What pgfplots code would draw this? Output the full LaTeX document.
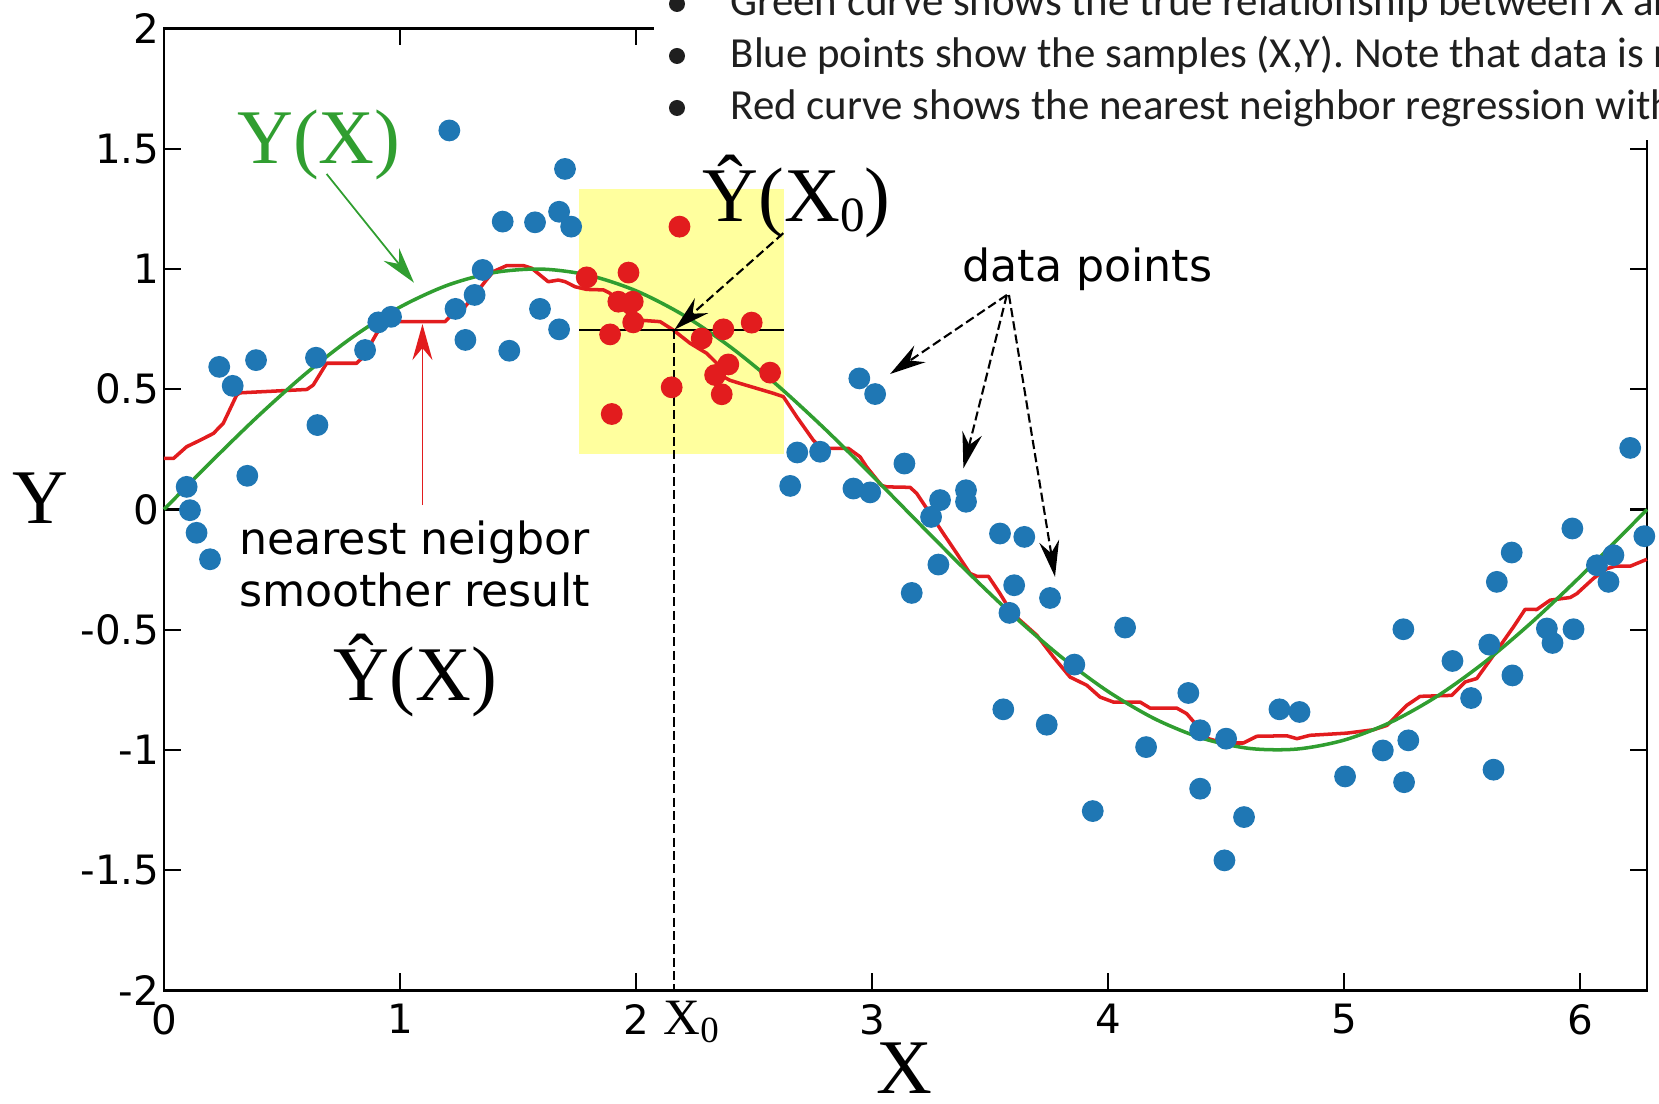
\documentclass[border=0pt]{standalone}
\usepackage{fontspec}
\usepackage{pgfplots}
\pgfplotsset{compat=1.18}
\usetikzlibrary{arrows.meta}
\newfontfamily\dvsans{DejaVu Sans}
\newfontfamily\lserif{Liberation Serif}
\newfontfamily\calib{Carlito}
\definecolor{ptblue}{RGB}{31,119,180}
\definecolor{nnred}{RGB}{226,28,30}
\definecolor{truegreen}{RGB}{48,158,48}
\definecolor{boxyellow}{RGB}{255,255,158}

% noisy samples outside the window
\pgfplotstableread{
x y
1.209 1.576
1.699 1.416
1.435 1.197
1.572 1.194
1.674 1.238
1.725 1.176
1.350 0.996
1.316 0.892
1.235 0.834
1.593 0.834
1.674 0.749
1.277 0.705
1.463 0.660
0.962 0.801
0.908 0.778
0.852 0.663
0.644 0.631
0.390 0.621
0.234 0.593
0.291 0.514
0.650 0.351
0.353 0.140
0.096 0.094
0.110 -0.003
0.138 -0.097
0.195 -0.207
2.946 0.545
3.013 0.480
2.683 0.237
2.780 0.240
2.653 0.098
2.921 0.087
2.992 0.071
3.137 0.191
3.288 0.039
3.398 0.080
3.398 0.032
3.250 -0.031
3.542 -0.100
3.645 -0.114
3.281 -0.229
3.168 -0.347
3.602 -0.315
3.754 -0.368
3.582 -0.430
4.072 -0.491
3.857 -0.645
3.556 -0.831
3.740 -0.895
4.161 -0.988
3.935 -1.254
4.340 -0.763
4.390 -0.918
4.500 -0.953
4.390 -1.161
4.576 -1.279
4.493 -1.459
4.726 -0.831
4.811 -0.842
5.004 -1.110
5.164 -1.002
5.272 -0.960
5.254 -1.134
5.251 -0.498
5.459 -0.630
5.538 -0.784
5.633 -1.082
5.615 -0.562
5.713 -0.690
5.647 -0.301
5.710 -0.179
5.859 -0.495
5.883 -0.555
5.972 -0.498
5.967 -0.079
6.071 -0.232
6.141 -0.190
6.120 -0.301
6.272 -0.111
6.212 0.256
}\bluepts

% samples inside the neighbourhood of X0
\pgfplotstableread{
x y
1.791 0.965
1.968 0.985
1.925 0.864
1.986 0.864
1.988 0.778
1.890 0.728
1.897 0.397
2.184 1.176
2.278 0.711
2.370 0.749
2.490 0.777
2.391 0.603
2.335 0.559
2.363 0.479
2.151 0.508
2.568 0.569
}\redpts

% nearest neighbour smoother
\pgfplotstableread{
x y
0.000 0.212
0.040 0.212
0.096 0.261
0.153 0.288
0.209 0.316
0.251 0.358
0.308 0.476
0.322 0.485
0.605 0.499
0.632 0.517
0.689 0.608
0.816 0.608
0.845 0.635
0.901 0.732
0.936 0.781
1.191 0.781
1.226 0.816
1.275 0.843
1.311 0.885
1.360 0.947
1.395 0.989
1.452 1.014
1.523 1.014
1.558 1.003
1.593 0.975
1.628 0.947
1.671 0.954
1.700 0.947
1.742 0.926
1.791 0.915
1.862 0.913
1.890 0.899
1.932 0.843
2.003 0.788
2.102 0.781
2.158 0.746
2.229 0.691
2.300 0.649
2.342 0.608
2.370 0.552
2.398 0.537
2.441 0.524
2.582 0.483
2.624 0.469
2.681 0.385
2.751 0.288
2.780 0.261
2.822 0.254
2.900 0.254
2.949 0.219
2.977 0.177
3.040 0.100
3.062 0.094
3.161 0.092
3.189 0.067
3.246 -0.017
3.302 -0.100
3.359 -0.183
3.415 -0.266
3.444 -0.278
3.493 -0.278
3.542 -0.350
3.585 -0.419
3.627 -0.461
3.698 -0.523
3.768 -0.613
3.839 -0.697
3.910 -0.731
3.966 -0.780
4.023 -0.801
4.136 -0.801
4.178 -0.826
4.291 -0.826
4.333 -0.849
4.376 -0.898
4.425 -0.953
4.489 -0.971
4.573 -0.971
4.630 -0.943
4.757 -0.941
4.800 -0.953
4.856 -0.939
5.011 -0.930
5.124 -0.916
5.181 -0.898
5.266 -0.814
5.322 -0.777
5.456 -0.773
5.513 -0.717
5.562 -0.703
5.633 -0.606
5.717 -0.489
5.767 -0.415
5.816 -0.416
5.873 -0.377
5.958 -0.366
5.986 -0.350
6.056 -0.287
6.113 -0.246
6.148 -0.236
6.212 -0.236
6.283 -0.207
}\nncurve

% true relationship
\pgfplotstableread{
x y
0.0 0.0
0.2 0.1987
0.4 0.3894
0.6 0.5646
0.8 0.7174
1.0 0.8415
1.2 0.9320
1.4 0.9854
1.6 0.9996
1.8 0.9738
2.0 0.9093
2.2 0.8085
2.4 0.6755
2.6 0.5155
2.8 0.3350
3.0 0.1411
3.2 -0.0584
3.4 -0.2555
3.6 -0.4425
3.8 -0.6119
4.0 -0.7568
4.2 -0.8716
4.4 -0.9516
4.6 -0.9937
4.8 -0.9962
5.0 -0.9589
5.2 -0.8835
5.4 -0.7728
5.6 -0.6313
5.8 -0.4646
6.0 -0.2794
6.2 -0.0831
6.2832 0.0
}\truecurve

\tikzset{
  annot/.style={line width=0.6pt, dash pattern=on 2.6pt off 1.2pt},
  tip/.style={-{Stealth[length=0.36cm,width=0.2cm,inset=0.12cm]}},
}

\begin{document}
\begin{tikzpicture}
\useasboundingbox (-1.64,-1.135) rectangle (14.95,9.905);
\begin{axis}[
  at={(0,0)}, anchor=south west,
  scale only axis, width=14.83cm, height=9.62cm,
  xmin=0, xmax=6.2832, ymin=-2, ymax=2,
  xtick={0,1,2,3,4,5,6},
  ytick={-2,-1.5,-1,-0.5,0,0.5,1,1.5,2},
  tick align=inside, major tick length=0.17cm,
  axis line style={line width=0.6pt},
  every tick/.style={black, line width=0.6pt},
  ticklabel style={font=\dvsans\fontsize{11.5}{13}\selectfont},
  /pgf/number format/assume math mode=true,
  yticklabel style={inner sep=0pt, xshift=-0.04cm},
  xticklabel style={inner sep=0pt, yshift=-0.13cm},
  clip=false,
]
\fill[boxyellow] (axis cs:1.760,0.230) rectangle (axis cs:2.628,1.332);

\addplot[only marks, mark=*, mark size=2.9pt, color=ptblue] table {\bluepts};
\addplot[only marks, mark=*, mark size=2.9pt, color=nnred] table {\redpts};
\addplot[nnred, line width=1pt, line join=round] table {\nncurve};
\addplot[truegreen, line width=1pt, smooth] table {\truecurve};

\draw[line width=0.7pt] (axis cs:1.760,0.746) -- (axis cs:2.628,0.746);
\draw[annot] (axis cs:2.16,0.746) -- (axis cs:2.16,-2);
\draw[annot, tip] (axis cs:2.624,1.149) -- (axis cs:2.163,0.748);

\draw[annot, tip] (axis cs:3.571,0.892) -- (axis cs:3.076,0.563);
\draw[annot, tip] (axis cs:3.571,0.892) -- (axis cs:3.387,0.171);
\draw[annot, tip] (axis cs:3.580,0.892) -- (axis cs:3.775,-0.280);

\draw[nnred, line width=0.5pt, tip] (axis cs:1.095,0.018) -- (axis cs:1.095,0.771);
\draw[truegreen, line width=0.5pt, tip] (axis cs:0.689,1.395) -- (axis cs:1.059,0.943);

\node[anchor=base west, inner sep=0pt, text=truegreen, font=\lserif\fontsize{22}{22}\selectfont]
  at (axis cs:0.308,1.440) {Y(X)};
\node[anchor=base west, inner sep=0pt, font=\lserif\fontsize{22}{22}\selectfont]
  at (axis cs:2.279,1.197) {Ŷ(X\raisebox{-2.8pt}{\fontsize{14}{14}\selectfont 0})};
\node[anchor=base west, inner sep=0pt, font=\lserif\fontsize{22}{22}\selectfont]
  at (axis cs:0.716,-0.794) {Ŷ(X)};
\node[anchor=base west, inner sep=0pt, font=\dvsans\fontsize{12.6}{14}\selectfont]
  at (axis cs:3.380,0.947) {data points};
\node[anchor=base west, inner sep=0pt, font=\dvsans\fontsize{12.6}{14}\selectfont]
  at (axis cs:0.315,-0.186) {nearest neigbor};
\node[anchor=base west, inner sep=0pt, font=\dvsans\fontsize{12.6}{14}\selectfont]
  at (axis cs:0.315,-0.402) {smoother result};
\node[anchor=base west, inner sep=0pt, font=\lserif\fontsize{14.5}{14}\selectfont, yshift=-0.445cm]
  at (axis cs:2.114,-2) {X\raisebox{-2pt}{\fontsize{10.5}{10}\selectfont 0}};
\end{axis}

\node[inner sep=0pt, font=\lserif\fontsize{22}{22}\selectfont] at (-1.24,4.92) {Y};
\node[anchor=base, inner sep=0pt, font=\lserif\fontsize{22}{22}\selectfont] at (7.405,-1.03) {X};

\begin{scope}
\clip (-1.64,-1.135) rectangle (14.95,9.905);
\fill[white] (4.90,8.505) rectangle (15.2,10.2);
\begin{scope}[every node/.style={inner sep=0pt, text=black!88, font=\calib\fontsize{12.2}{14}\selectfont}]
\foreach \yb in {9.745,9.225,8.705}
  \fill[black!88] (5.13,\yb+0.12) circle (0.08);
\node[anchor=base west] at (5.66,9.745) {Green curve shows the true relationship between X and Y};
\node[anchor=base west] at (5.66,9.225) {Blue points show the samples (X,Y). Note that data is noisy};
\node[anchor=base west] at (5.66,8.705) {Red curve shows the nearest neighbor regression with k};
\end{scope}
\end{scope}
\end{tikzpicture}
\end{document}
